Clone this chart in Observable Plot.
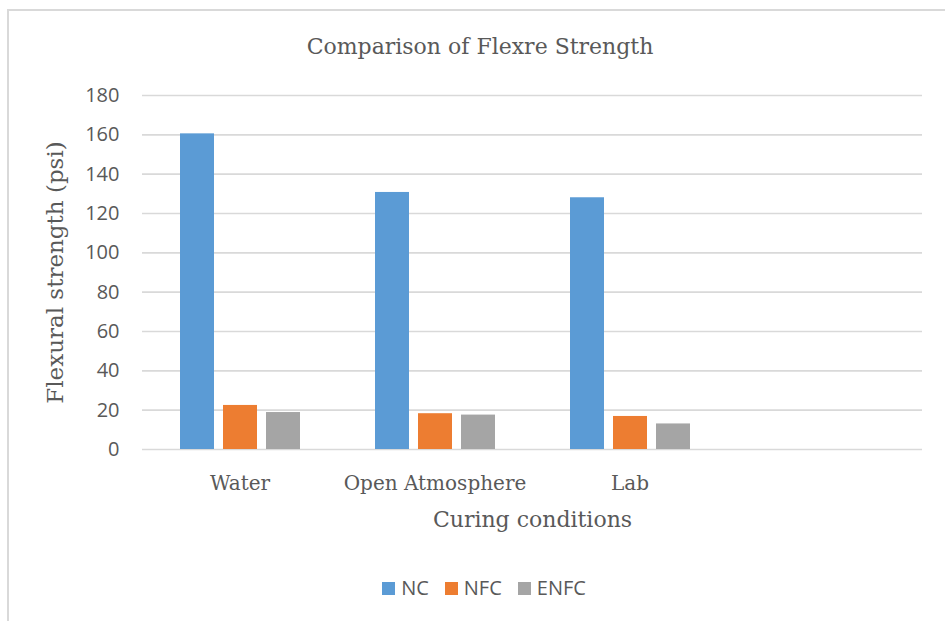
<!DOCTYPE html>
<html>
<head>
<meta charset="utf-8">
<script src="https://cdn.jsdelivr.net/npm/d3@7"></script>
<script src="https://cdn.jsdelivr.net/npm/@observablehq/plot@0.6"></script>
<style>
  body { margin: 0; background: #fff; }
  #wrap { position: relative; width: 945px; height: 621px; overflow: hidden; background: #fff; }
  #frame { position: absolute; left: 7px; top: 9px; width: 1000px; height: 700px;
           border-top: 2px solid #d9d9d9; border-left: 2px solid #d9d9d9; }
  #title { position: absolute; top: 33px; left: 0; width: 960px; text-align: center;
           font-family: "DejaVu Serif", serif; font-size: 22px; color: #595959; line-height: 28px; }
  #chart { position: absolute; left: 0; top: 0; }
  #legend { position: absolute; top: 576px; left: 0; width: 968px; display: flex; justify-content: center;
            font-family: "Open Sans", sans-serif; font-size: 20px; color: #595959; line-height: 24px; }
  #legend .item { display: flex; align-items: center; margin: 0 8px; }
  #legend .sw { width: 13px; height: 13px; margin-right: 6px; }
  g[aria-label="y-axis label"] text {
    font-family: "DejaVu Serif", serif; font-size: 23px; fill: #595959;
  }
  g[aria-label="fx-axis label"] text {
    font-family: "DejaVu Serif", serif; font-size: 22px; fill: #595959;
  }
  g[aria-label="fx-axis tick label"] text {
    font-family: "DejaVu Serif", serif; font-size: 20px; fill: #595959;
  }
</style>
</head>
<body>
<div id="wrap">
  <div id="frame"></div>
  <div id="chart"></div>
  <div id="title">Comparison of Flexre Strength</div>
  <div id="legend"></div>
</div>
<script>
const categories = ["Water", "Open Atmosphere", "Lab", ""];
const seriesNames = ["NC", "NFC", "ENFC"];
const NC = [160.5, 130.7, 128.0];
const NFC = [22.4, 18.2, 16.8];
const ENFC = [18.8, 17.5, 13.0];
const seriesColors = ["#5b9bd5", "#ed7d31", "#a5a5a5"];
const yTicks = [0, 20, 40, 60, 80, 100, 120, 140, 160, 180];

const valuesBySeries = {NC, NFC, ENFC};
const data = [];
categories.slice(0, 3).forEach((c, i) => {
  seriesNames.forEach(s => data.push({category: c, series: s, value: valuesBySeries[s][i]}));
});
// gridlines for every category band (including the empty fourth slot)
const gridData = categories.flatMap(c => yTicks.map(v => ({category: c, value: v})));

const chart = Plot.plot({
  width: 945,
  height: 540,
  marginTop: 95,
  marginBottom: 91,
  marginLeft: 140,
  marginRight: 22,
  style: {background: "transparent", color: "#595959", fontFamily: "'Open Sans', sans-serif", fontSize: "20px"},
  fx: {domain: categories, paddingInner: 0, paddingOuter: 0},
  x: {domain: seriesNames, paddingInner: 0.217, paddingOuter: 0.867, axis: null},
  y: {domain: [0, 180]},
  color: {domain: seriesNames, range: seriesColors},
  marks: [
    Plot.ruleY(gridData, {fx: "category", y: "value", stroke: "#d9d9d9", strokeWidth: 1.6}),
    Plot.barY(data, {fx: "category", x: "series", y: "value", fill: "series"}),
    Plot.axisY({ticks: yTicks, tickSize: 0, tickPadding: 23, label: "Flexural strength (psi)",
                labelAnchor: "center", labelOffset: 96, labelArrow: "none", fill: "#595959"}),
    Plot.axisFx({anchor: "bottom", tickSize: 0, tickPadding: 26, label: "Curing conditions",
                 labelAnchor: "center", labelOffset: 77, labelArrow: "none", fill: "#595959"})
  ]
});
document.getElementById("chart").appendChild(chart);

const legend = document.getElementById("legend");
seriesNames.forEach((s, i) => {
  const item = document.createElement("div");
  item.className = "item";
  const sw = document.createElement("div");
  sw.className = "sw";
  sw.style.background = seriesColors[i];
  const t = document.createElement("span");
  t.textContent = s;
  item.appendChild(sw);
  item.appendChild(t);
  legend.appendChild(item);
});
</script>
</body>
</html>
